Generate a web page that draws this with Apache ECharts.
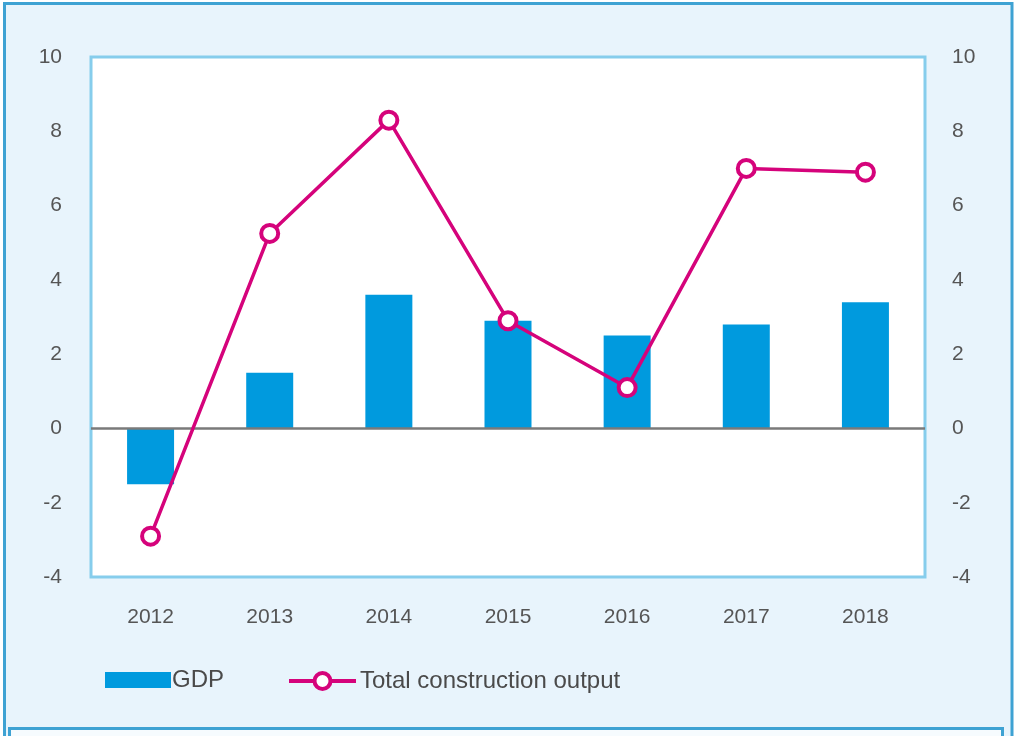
<!DOCTYPE html>
<html>
<head>
<meta charset="utf-8">
<script src="https://cdn.jsdelivr.net/npm/echarts@6/dist/echarts.min.js"></script>
<style>
html,body{margin:0;padding:0;background:#ffffff;}
#chart{width:1024px;height:736px;}
</style>
</head>
<body>
<div id="chart"></div>
<script>
const categories = ['2012','2013','2014','2015','2016','2017','2018'];
const gdp = [-1.5, 1.5, 3.6, 2.9, 2.5, 2.8, 3.4];
const construction = [-2.9, 5.25, 8.3, 2.9, 1.1, 7.0, 6.9];
const yTicks = { min: -4, max: 10, interval: 2 };

const FONT = "'Liberation Sans', sans-serif";
const MAGENTA = '#d5037b';
const chart = echarts.init(document.getElementById('chart'), null, {renderer: 'canvas'});

chart.setOption({
  backgroundColor: '#ffffff',
  animation: false,
  textStyle: { fontFamily: FONT },
  graphic: [
    { type: 'rect', z: -10, silent: true,
      shape: { x: 4.5, y: 3.5, width: 1007.5, height: 740 },
      style: { fill: '#e8f4fc', stroke: '#3ea2d3', lineWidth: 3 } },
    { type: 'rect', z: -9, silent: true,
      shape: { x: 9.5, y: 728.5, width: 993, height: 30 },
      style: { fill: '#f6fbfe', stroke: '#3ea2d3', lineWidth: 3 } }
  ],
  grid: {
    left: 91, top: 57, right: 99, bottom: 159,
    show: true, backgroundColor: '#ffffff',
    borderColor: '#86cdec', borderWidth: 3
  },
  legend: [
    {
      left: 105, top: 668, padding: 0,
      itemWidth: 66, itemHeight: 16,
      textStyle: { fontFamily: FONT, fontSize: 24, color: '#4a4a4a', padding: [0,0,0,-4] },
      data: [{ name: 'GDP', icon: 'rect' }]
    },
    {
      left: 287, top: 669, padding: 0,
      itemWidth: 67, itemHeight: 20,
      textStyle: { fontFamily: FONT, fontSize: 24, color: '#4a4a4a', padding: [0,0,0,-1] },
      data: [{ name: 'Total construction output',
               lineStyle: { color: MAGENTA, width: 4 },
               itemStyle: { color: '#ffffff', borderColor: MAGENTA, borderWidth: 4 } }]
    }
  ],
  xAxis: {
    type: 'category',
    data: categories,
    axisLine: { show: false, onZero: false },
    axisTick: { show: false },
    axisLabel: { margin: 30, fontSize: 21, color: '#555555', fontFamily: FONT }
  },
  yAxis: [
    { type: 'value', min: yTicks.min, max: yTicks.max, interval: yTicks.interval,
      axisLine: { show: false }, axisTick: { show: false }, splitLine: { show: false },
      axisLabel: { margin: 29, fontSize: 21, color: '#555555', fontFamily: FONT } },
    { type: 'value', position: 'right', min: yTicks.min, max: yTicks.max, interval: yTicks.interval,
      axisLine: { show: false }, axisTick: { show: false }, splitLine: { show: false },
      axisLabel: { margin: 27, fontSize: 21, color: '#555555', fontFamily: FONT } }
  ],
  series: [
    { name: 'GDP', type: 'bar', data: gdp, barWidth: 47,
      itemStyle: { color: '#009ade' },
      markLine: { silent: true, symbol: ['none','none'], label: { show: false },
        lineStyle: { color: '#7a7a7a', width: 2.5, type: 'solid' },
        data: [{ yAxis: 0 }] } },
    { name: 'Total construction output', type: 'line', data: construction, z: 5,
      symbol: 'circle', symbolSize: 17,
      lineStyle: { color: MAGENTA, width: 3.5 },
      itemStyle: { color: '#ffffff', borderColor: MAGENTA, borderWidth: 4 } }
  ]
});
</script>
</body>
</html>
